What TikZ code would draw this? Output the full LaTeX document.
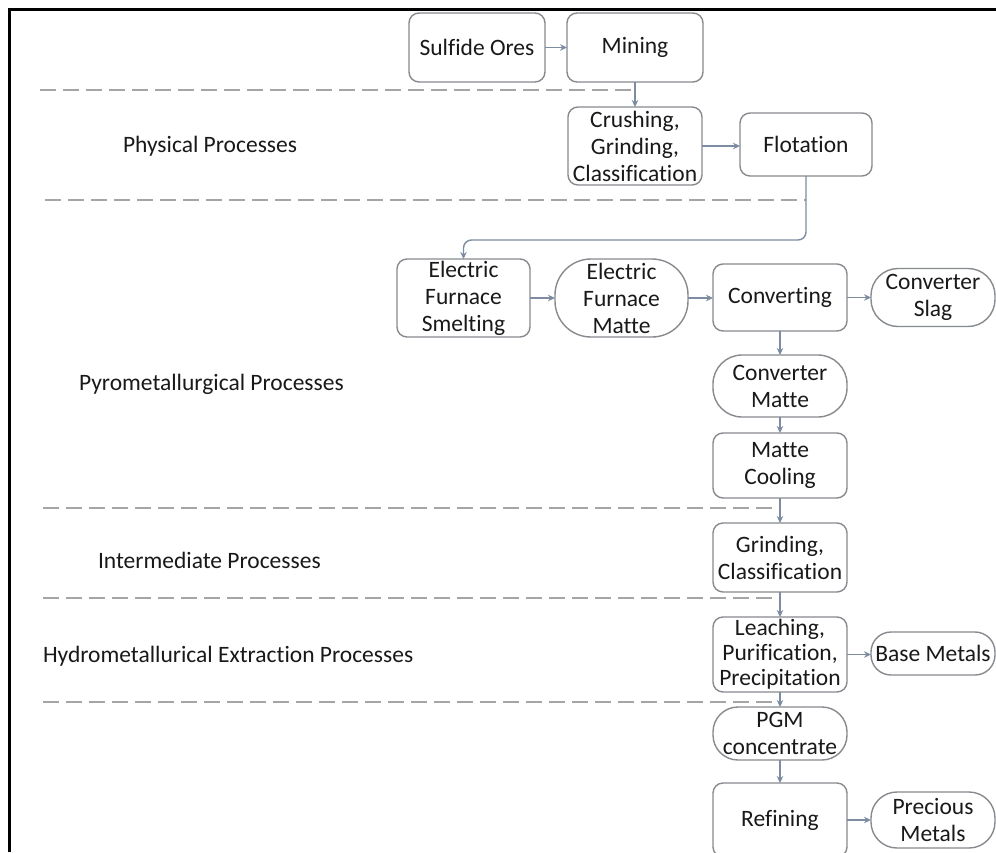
\documentclass[tikz,border=0pt]{standalone}
\usepackage{fontspec}
\setmainfont{Carlito}[Ligatures={NoCommon}]
\usetikzlibrary{arrows.meta}
\definecolor{boxline}{RGB}{135,138,142}
\definecolor{linkline}{RGB}{125,140,160}
\definecolor{sepline}{RGB}{165,165,165}
\begin{document}
\begin{tikzpicture}[x=1pt,y=-1pt,
  every node/.style={font=\fontsize{23.5}{27}\selectfont, inner sep=0pt, outer sep=0pt, text=black!90},
  boxsize/.style 2 args={minimum width=#1pt, minimum height=#2pt},
  procbox/.style={draw=boxline, line width=1.4pt, rounded corners=10pt, align=center, fill=white},
  termbox/.style={procbox, rounded corners=#1pt},
  stagelabel/.style={anchor=west},
  conn/.style={draw=linkline, line width=1.4pt, -{Stealth[length=7pt,width=6.5pt]}},
  separator/.style={draw=sepline, line width=2.2pt, dash pattern=on 16pt off 7pt}
]
\useasboundingbox (0,0) rectangle (996,852);
\fill[white] (0,0) rectangle (996,852);

% outer frame (top and left edges)
\draw[black, line width=3pt] (9,852) -- (9,9) -- (996,9);

% stage separators
\draw[separator] (40,90)  -- (633,90);
\draw[separator] (45,200) -- (806,200);
\draw[separator] (43,508) -- (780,508);
\draw[separator] (43,598) -- (780,598);
\draw[separator] (43,702) -- (780,702);

% stage labels
\node[stagelabel] (lphys)  at (123,146) {Physical Processes};
\node[stagelabel] (lpyro)  at (79,384)  {Pyrometallurgical Processes};
\node[stagelabel] (linter) at (98,560)  {Intermediate Processes};
\node[stagelabel] (lhydro) at (43,656)  {Hydrometallurical Extraction Processes};

% process steps
\node[procbox, boxsize={136}{69}] (ores)    at (477,47.5)  {Sulfide Ores};
\node[procbox, boxsize={136}{69}] (mining)  at (635,47.5)  {Mining};
\node[procbox, boxsize={134}{78}] (crush)   at (635,146)   {Crushing,\\Grinding,\\Classification};
\node[procbox, boxsize={132}{63}] (flot)    at (806,144.5) {Flotation};
\node[procbox, boxsize={133}{78}] (efs)     at (463.5,298) {Electric\\Furnace\\Smelting};
\node[termbox=36, boxsize={133}{78}] (efm)  at (621.5,298) {Electric\\Furnace\\Matte};
\node[procbox, boxsize={134}{67}] (conv)    at (780,297.5) {Converting};
\node[termbox=27, boxsize={124}{58}] (slag) at (933,297.5) {Converter\\Slag};
\node[termbox=29, boxsize={134}{62}] (cmat) at (780,386)   {Converter\\Matte};
\node[procbox, boxsize={134}{65}] (cool)    at (780,465.5) {Matte\\Cooling};
\node[procbox, boxsize={134}{69}] (grind)   at (780,557.5) {Grinding,\\Classification};
\node[procbox, boxsize={134}{75}, font=\fontsize{23.5}{25}\selectfont] (leach) at (780,654.5) {Leaching,\\Purification,\\Precipitation};
\node[termbox=20, boxsize={124}{43}] (base) at (933,653.5) {Base Metals};
\node[termbox=25, boxsize={134}{53}] (pgm)  at (780,733.5) {PGM\\concentrate};
\node[procbox, boxsize={134}{74}] (refine)  at (780,820)   {Refining};
\node[termbox=26, boxsize={124}{56}] (prec) at (933,820)   {Precious\\Metals};

% flow connectors
\coordinate (flotdown) at (806,240);
\draw[conn] (ores.east) -- (mining.west);
\draw[conn] (mining.south) -- (crush.north);
\draw[conn] (crush.east) -- (crush.east -| flot.west);
\draw[conn, rounded corners=8pt] (flot.south) -- (flotdown) -| (efs.north);
\draw[conn] (efs.east) -- (efm.west);
\draw[conn] (efm.east) -- (efm.east -| conv.west);
\draw[conn] (conv.east) -- (conv.east -| slag.west);
\draw[conn] (conv.south) -- (cmat.north);
\draw[conn] (cmat.south) -- (cool.north);
\draw[conn] (cool.south) -- (grind.north);
\draw[conn] (grind.south) -- (leach.north);
\draw[conn] (leach.east) -- (leach.east -| base.west);
\draw[conn] (leach.south) -- (pgm.north);
\draw[conn] (pgm.south) -- (refine.north);
\draw[conn] (refine.east) -- (refine.east -| prec.west);
\end{tikzpicture}
\end{document}
